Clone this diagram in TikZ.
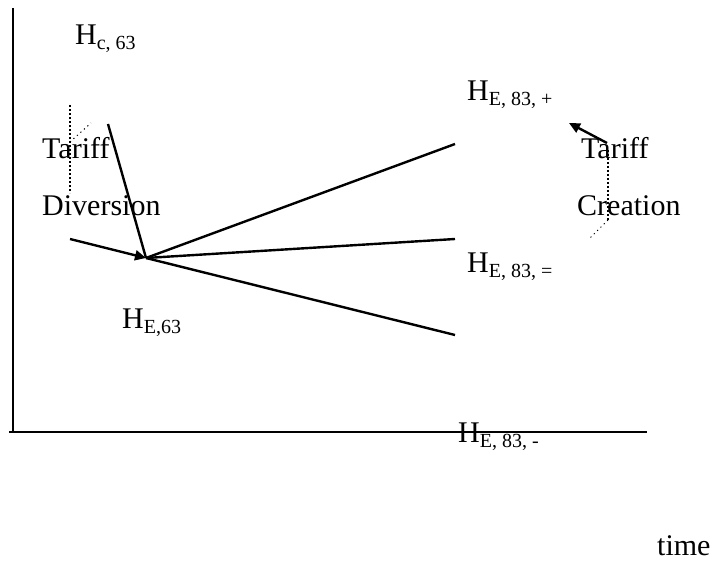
\documentclass[tikz,border=0pt]{standalone}
\usepackage{fontspec}
\setmainfont{Liberation Serif}
\usetikzlibrary{arrows.meta}
\newcommand{\subtxt}[1]{\raisebox{-5pt}{\fontsize{20}{20}\selectfont #1}}
\begin{document}
\begin{tikzpicture}[x=1pt,y=-1pt,
  lbl/.style={inner sep=0pt,anchor=base west,font=\fontsize{30}{30}\selectfont},
  axisline/.style={line width=2.2pt},
  trend/.style={line width=2.4pt},
  dotline/.style={line width=1.2pt,dash pattern=on 2pt off 2pt},
  dotdiag/.style={line width=1pt,dash pattern=on 1.2pt off 3.5pt},
  tip/.style={-{Triangle[length=11pt,width=10pt]}}]
\useasboundingbox (0,0) rectangle (711,561);
% axes
\coordinate (ytop) at (13,8);
\coordinate (orig) at (13,432);
\coordinate (xleft) at (9,432);
\coordinate (xend) at (647,432);
\draw[axisline] (ytop) -- (orig);
\draw[axisline] (xleft) -- (xend);
% points
\coordinate (hub) at (146,258);
\coordinate (plus) at (455,144);
\coordinate (eq) at (455,239);
\coordinate (minus) at (455,335);
\coordinate (steep) at (108,124);
\coordinate (lstart) at (70,239);
\draw[trend] (hub) -- (plus);
\draw[trend] (hub) -- (eq);
\draw[trend] (hub) -- (minus);
\draw[trend] (steep) -- (hub);
\draw[trend,tip] (lstart) -- (hub);
% right arrow
\coordinate (rtail) at (607,143);
\coordinate (rhead) at (569,123);
\draw[trend,tip] (rtail) -- (rhead);
% dotted marks
\coordinate (ld1) at (70,105);
\coordinate (ld2) at (70,193);
\coordinate (ld3) at (70,142);
\coordinate (ld4) at (91,123);
\draw[dotline] (ld1) -- (ld2);
\draw[dotdiag] (ld3) -- (ld4);
\coordinate (rd1) at (608,150);
\coordinate (rd2) at (608,220);
\coordinate (rd3) at (589,239);
\draw[dotline] (rd1) -- (rd2);
\draw[dotdiag] (rd2) -- (rd3);
% labels
\node[lbl] (hc) at (75,45) {H\subtxt{c, 63}};
\node[lbl] (tl) at (42,159) {Tariff};
\node[lbl] (dv) at (42,215) {Diversion};
\node[lbl] (he63) at (122,328) {H\subtxt{E,63}};
\node[lbl] (hp) at (467,101) {H\subtxt{E, 83, +}};
\node[lbl] (he) at (467,272) {H\subtxt{E, 83, =}};
\node[lbl] (hm) at (458,442) {H\subtxt{E, 83, -}};
\node[lbl] (tr) at (581,159) {Tariff};
\node[lbl] (cr) at (577,215) {Creation};
\node[lbl] (tm) at (657,555) {time};
\end{tikzpicture}
\end{document}
